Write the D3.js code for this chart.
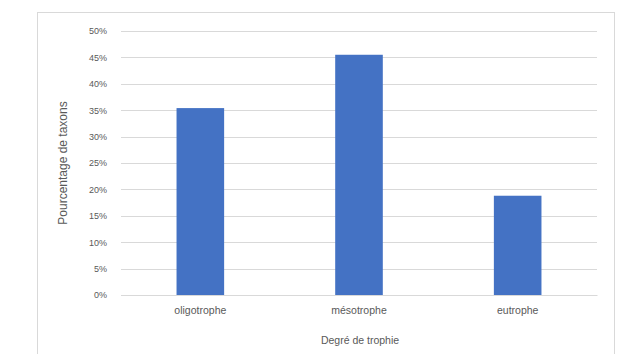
<!DOCTYPE html>
<html><head><meta charset="utf-8">
<script src="https://cdn.jsdelivr.net/npm/d3@7"></script>
<style>body{margin:0;background:#fff;}svg{display:block;font-family:"Liberation Sans",Arial,sans-serif;}</style>
</head><body><svg id="c" width="624" height="354"></svg>
<script>
const categories = ["oligotrophe", "mésotrophe", "eutrophe"];
const values = [35.4, 45.5, 18.8];
const yTicks = [0, 5, 10, 15, 20, 25, 30, 35, 40, 45, 50];
const yTitle = "Pourcentage de taxons";
const xTitle = "Degré de trophie";

const svg = d3.select("#c");
svg.append("rect").attr("x", 37.5).attr("y", 12.5).attr("width", 577).attr("height", 345)
  .attr("fill", "#fff").attr("stroke", "#d9d9d9");
const m = {left: 121, right: 597, top: 31, bottom: 295};
const x = d3.scaleBand().domain(categories).range([m.left, m.right]).paddingInner(0.7).paddingOuter(0.35);
const y = d3.scaleLinear().domain([0, 50]).range([m.bottom, m.top]);

const grid = svg.append("g");
grid.selectAll("line").data(yTicks).join("line")
  .attr("x1", m.left).attr("x2", m.right)
  .attr("y1", d => Math.round(y(d)) + 0.5).attr("y2", d => Math.round(y(d)) + 0.5)
  .attr("stroke", "#d9d9d9").attr("stroke-width", 1);

const yAxis = svg.append("g").attr("transform", `translate(${m.left},0)`)
  .call(d3.axisLeft(y).tickValues(yTicks).tickFormat(d => d + "%").tickSize(0).tickPadding(14));
yAxis.select(".domain").remove();
yAxis.selectAll("text").attr("fill", "#595959").attr("font-size", 9);

svg.selectAll("rect.bar").data(values).join("rect").attr("class", "bar")
  .attr("x", (d, i) => x(categories[i])).attr("width", x.bandwidth())
  .attr("y", d => y(d)).attr("height", d => y(0) - y(d))
  .attr("fill", "#4472c4");

const xAxis = svg.append("g").attr("transform", `translate(0,${m.bottom})`)
  .call(d3.axisBottom(x).tickSize(0).tickPadding(12));
xAxis.select(".domain").attr("stroke", "#d9d9d9");
xAxis.selectAll("text").attr("fill", "#595959").attr("font-size", 10.5);

svg.append("text").attr("transform", `translate(67,${(m.top + m.bottom) / 2}) rotate(-90)`)
  .attr("text-anchor", "middle").attr("fill", "#595959").attr("font-size", 12).text(yTitle);
svg.append("text").attr("x", (m.left + m.right) / 2 + 1).attr("y", 344)
  .attr("text-anchor", "middle").attr("fill", "#595959").attr("font-size", 10.5).text(xTitle);
</script></body></html>
